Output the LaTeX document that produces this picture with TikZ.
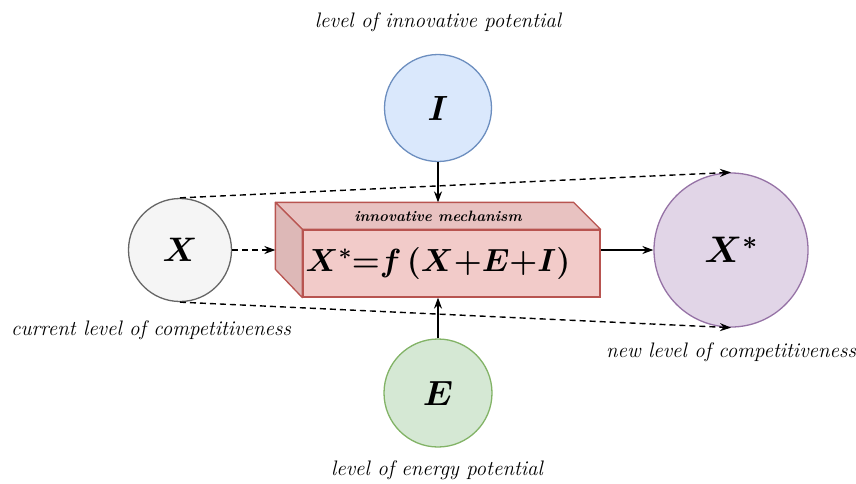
\documentclass[tikz,border=0pt]{standalone}
\usepackage{fix-cm}
\usepackage{amsmath,amssymb,bm}
\usepackage{fontspec}
\usepackage{tikz}
\usetikzlibrary{arrows.meta,positioning}

\definecolor{innofill}{HTML}{DAE8FC}
\definecolor{innodraw}{HTML}{6C8EBF}
\definecolor{curfill}{HTML}{F5F5F5}
\definecolor{curdraw}{HTML}{666666}
\definecolor{newfill}{HTML}{E1D5E7}
\definecolor{newdraw}{HTML}{9673A6}
\definecolor{enfill}{HTML}{D5E8D4}
\definecolor{endraw}{HTML}{82B366}
\definecolor{mechfill}{HTML}{F2CBC9}
\definecolor{mechtop}{HTML}{E8C2C1}
\definecolor{mechside}{HTML}{DDB8B7}
\definecolor{mechdraw}{HTML}{B85450}

\begin{document}
\begin{tikzpicture}[x=1pt,y=-1pt,>={Stealth[length=11pt,width=8pt]},
    every node/.style={inner sep=0pt},
    lvl/.style={circle,line width=1.3pt},
    lbl/.style={font=\fontsize{21}{24}\selectfont\itshape},
    link/.style={->,line width=1.4pt},
    dlink/.style={->,line width=1.4pt,dash pattern=on 6pt off 4pt}]
  \useasboundingbox (0,0) rectangle (856,483);
  % the four levels
  \node[lvl,fill=innofill,draw=innodraw,minimum size=107pt] (I) at (438,108)
    {\fontsize{35}{40}\selectfont$\boldsymbol{I}$};
  \node[lvl,fill=curfill,draw=curdraw,minimum size=103pt] (X) at (180,250)
    {\fontsize{34}{40}\selectfont$\boldsymbol{X}$};
  \node[lvl,fill=newfill,draw=newdraw,minimum size=154pt] (Xs) at (731,250)
    {\fontsize{37}{40}\selectfont$\boldsymbol{X^{*}}$};
  \node[lvl,fill=enfill,draw=endraw,minimum size=108pt] (E) at (438,393)
    {\fontsize{35}{40}\selectfont$\boldsymbol{E}$};
  % the mechanism block
  \node[draw=mechdraw,fill=mechfill,line width=1.3pt,
        minimum width=297pt,minimum height=67pt] (box) at (451.5,263.5) {};
  \coordinate (backnw) at ([xshift=-27pt,yshift=27pt]box.north west);
  \coordinate (backne) at ([xshift=-27pt,yshift=27pt]box.north east);
  \filldraw[draw=mechdraw,fill=mechtop,line width=1.3pt,line join=round]
    (box.north west) -- (backnw) -- (backne) -- (box.north east) -- cycle;
  \filldraw[draw=mechdraw,fill=mechside,line width=1.3pt,line join=round]
    (box.north west) -- (backnw) -- ++(0,67) -- (box.south west) -- cycle;
  \node[font=\fontsize{15}{18}\selectfont\bfseries\itshape] (mech) at (438,216)
    {innovative mechanism};
  \node[font=\fontsize{32}{40}\selectfont] (eq) at (438,263)
    {$\boldsymbol{X^{*}{=}f\,(X{+}E{+}I)}$};
  % labels
  \node[lbl] (ilbl) at (438,22) {level of innovative potential};
  \node[lbl] (xlbl) at (151,330) {current level of competitiveness};
  \node[lbl] (nlbl) at (731,352) {new level of competitiveness};
  \node[lbl] (elbl) at (437,470) {level of energy potential};
  % connectors
  \draw[link] (I.south) -- (I.south |- backnw);
  \draw[link] (E.north) -- (E.north |- box.south);
  \draw[link] (Xs.west -| box.east) -- (Xs.west);
  \draw[dlink] (X.east) -- (X.east -| backnw);
  \draw[dlink] (X.north) -- (Xs.north);
  \draw[dlink] (X.south) -- (Xs.south);
\end{tikzpicture}
\end{document}
